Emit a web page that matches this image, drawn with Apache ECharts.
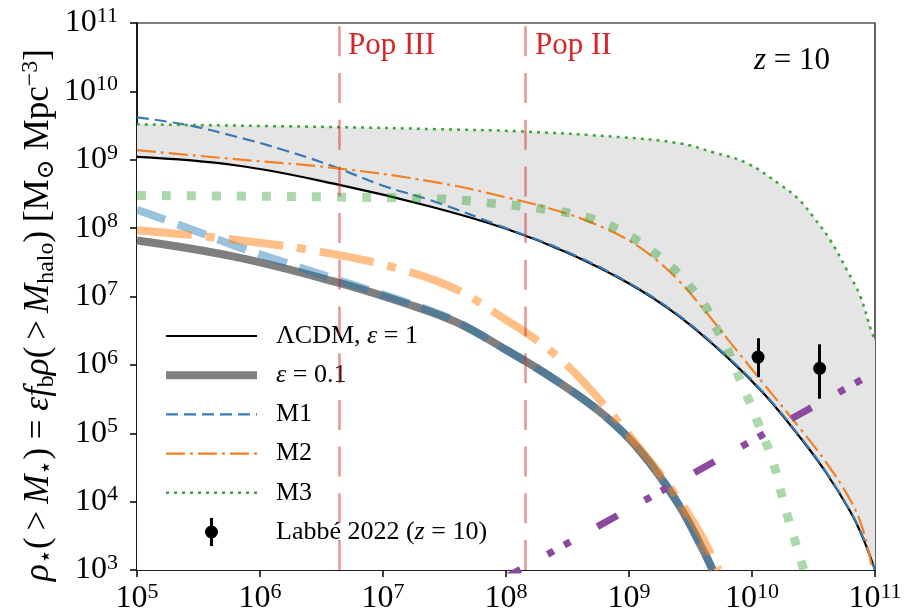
<!DOCTYPE html>
<html><head><meta charset="utf-8">
<script src="https://cdn.jsdelivr.net/npm/echarts@6/dist/echarts.min.js"></script>
<style>html,body{margin:0;padding:0;background:#fff}#c{width:909px;height:616px}</style>
</head><body><div id="c"></div>
<script>
// ---------- data ----------
const xTickExps = [5, 6, 7, 8, 9, 10, 11];
const yTickExps = [3, 4, 5, 6, 7, 8, 9, 10, 11];

const lcdm = [[1e5,1.10e9],[6.31e5,8.3e8],[3.98e6,4.47e8],[2.51e7,2.04e8],[1e8,9.8e7],[3.16e8,4.37e7],[1e9,1.55e7],[2.51e9,5.25e6],[6.31e9,1.29e6],[1.26e10,3.72e5],[2.51e10,8.3e4],[3.98e10,2.69e4],[6.31e10,7.1e3],[7.94e10,3.0e3],[1e11,1e3]];
const m1 = [[1e5,4.17e9],[2.51e5,3.24e9],[6.31e5,2.19e9],[1.58e6,1.38e9],[3.98e6,7.94e8],[1e7,4.17e8],[2.51e7,2.51e8],[1e8,1.0e8],[3.16e8,4.47e7],[1e9,1.58e7],[2.51e9,5.37e6],[6.31e9,1.32e6],[1.26e10,3.8e5],[2.51e10,8.5e4],[3.98e10,2.75e4],[6.31e10,7.2e3],[7.94e10,3.1e3],[1e11,1e3]];
const m2 = [[1e5,1.38e9],[6.31e5,1.02e9],[3.98e6,7.59e8],[2.51e7,4.79e8],[1e8,2.82e8],[3.16e8,1.62e8],[6.31e8,1.0e8],[1e9,6.6e7],[1.58e9,3.72e7],[2.51e9,1.74e7],[3.98e9,6.76e6],[6.31e9,2.4e6],[1.26e10,5.13e5],[2.51e10,1.12e5],[3.98e10,3.8e4],[6.31e10,1.05e4],[7.94e10,4.0e3],[9.55e10,1e3]];
const m3 = [[1e5,3.3e9],[4.3e6,3.0e9],[2.75e7,2.8e9],[1.3e8,2.6e9],[8.5e8,2.14e9],[2.57e9,1.74e9],[4.8e9,1.29e9],[9.1e9,8.9e8],[1.7e10,4.3e8],[2.34e10,2.75e8],[3.16e10,1.45e8],[4.3e10,6.8e7],[5.9e10,2.45e7],[7.6e10,1.0e7],[9.3e10,3.2e6],[1e11,2.3e6]];

const eps01 = [[1e5,6.6e7],[6.31e5,3.8e7],[3.98e6,1.66e7],[1.58e7,7.76e6],[3.98e7,4.17e6],[1e8,1.66e6],[2.51e8,6.03e5],[6.31e8,1.82e5],[1.26e9,5.25e4],[2.51e9,9.3e3],[3.98e9,2.0e3],[4.79e9,1e3]];
const m1Eps01 = [[1e5,1.86e8],[2.51e5,1.02e8],[6.31e5,5.5e7],[1.58e6,3.16e7],[3.98e6,1.82e7],[1e7,1.07e7],[2.51e7,6.03e6],[3.98e7,4.27e6],[1e8,1.66e6],[2.51e8,6.03e5],[6.31e8,1.82e5],[1.26e9,5.25e4],[2.51e9,9.3e3],[3.98e9,2.0e3],[4.79e9,1e3]];
const m2Eps01 = [[1e5,9.3e7],[6.31e5,6.76e7],[3.98e6,4.17e7],[1.58e7,2.34e7],[3.98e7,1.26e7],[1e8,4.57e6],[1.91e8,2.09e6],[3.55e8,7.94e5],[7.08e8,2.0e5],[1.26e9,5.6e4],[2.24e9,1.48e4],[3.55e9,4.2e3],[5.37e9,1e3]];
const m3Eps01 = [[1e5,3.0e8],[2.75e7,2.7e8],[7.1e7,2.34e8],[1.82e8,1.95e8],[4.7e8,1.41e8],[1.05e9,7.4e7],[2.2e9,2.7e7],[3.0e9,1.51e7],[4.1e9,7.6e6],[5.1e9,3.5e6],[6.2e9,1.82e6],[7.4e9,8.5e5],[8.9e9,3.9e5],[1.07e10,1.74e5],[1.48e10,3.8e4],[1.86e10,8.1e3],[2.45e10,1.55e3],[2.8e10,7e2]];

const surveyLimit = [[9.0e7,7.0e2],[1e11,7.8e5]];

const labbeM = [1.12e10, 3.55e10];
const labbeRho = [1.3e6, 8.9e5];
const labbeLo = [6.6e5, 3.2e5];
const labbeHi = [2.45e6, 2.0e6];

const popIII = 4.4e6;
const popII = 1.43e8;

// ---------- chart ----------
const FONT = "'Liberation Serif', 'Times New Roman', 'DejaVu Serif', serif";
const chart = echarts.init(document.getElementById('c'), null, {renderer: 'canvas'});

const tickRich = {
  b: {fontSize: 32, lineHeight: 36, fontFamily: FONT, color: '#000'},
  s: {fontSize: 22, lineHeight: 14, verticalAlign: 'top', fontFamily: FONT, color: '#000'}
};
function tickFmt(exps) {
  return function (v) {
    const e = Math.round(Math.log10(v));
    return exps.indexOf(e) >= 0 ? '{b|10}{s|' + e + '}' : '';
  };
}

const nameRich = {
  r: {fontSize: 35, lineHeight: 40, fontFamily: FONT, fill: '#000'},
  i: {fontSize: 35, lineHeight: 40, fontFamily: FONT, fontStyle: 'italic', fill: '#000'},
  sb: {fontSize: 24, lineHeight: 24, verticalAlign: 'bottom', fontFamily: FONT, fill: '#000'},
  sp: {fontSize: 24, lineHeight: 14, verticalAlign: 'top', fontFamily: FONT, fill: '#000'}
};
const yName = '{i|ρ}{sb|⋆}{r|(\u2009>\u2009}{i|M}{sb|⋆}{r|) = }{i|εf}{sb|b}{i|ρ}{r|(\u2009>\u2009}{i|M}{sb|halo}{r|) [M}{sb|⊙}{r| Mpc}{sp|−3}{r|]}';

const legendLabels = {
  'ΛCDM, ε = 1': '{r|ΛCDM, }{i|ε}{r| = 1}',
  'ε = 0.1': '{i|ε}{r| = 0.1}',
  'M1': '{r|M1}', 'M2': '{r|M2}', 'M3': '{r|M3}',
  'Labbé 2022 (z = 10)': '{r|Labbé 2022 (}{i|z}{r| = 10)}'
};
const legRich = {
  r: {fontSize: 26, lineHeight: 28, fontFamily: FONT, color: '#000'},
  i: {fontSize: 26, lineHeight: 28, fontFamily: FONT, fontStyle: 'italic', color: '#000'}
};

const SM = 0.4;
function lineSeries(name, data, ls, extra) {
  return Object.assign({
    type: 'line', name: name, data: data, symbol: 'none', smooth: SM,
    lineStyle: ls, itemStyle: {color: ls.color || '#000'}, silent: true, clip: true, animation: false
  }, extra || {});
}

const errIcon = 'path://M3.5,0L6.5,0L6.5,7.8L3.5,7.8Z M3.5,20.2L6.5,20.2L6.5,28L3.5,28Z M11.5,14A6.5,6.5,0,1,1,-1.5,14A6.5,6.5,0,1,1,11.5,14Z';

const labbeName = 'Labbé 2022 (z = 10)';

const option = {
  animation: false,
  backgroundColor: '#fff',
  grid: {left: 137, top: 23, width: 738, height: 547, show: true, borderColor: '#000', borderWidth: 1.2, backgroundColor: 'transparent'},
  xAxis: {
    type: 'log', logBase: 10, min: 1e5, max: 1e11,
    axisLine: {show: true, lineStyle: {color: '#000', width: 1.5}},
    axisTick: {show: true, length: 7, lineStyle: {color: '#000', width: 1.5}},
    minorTick: {show: false}, splitLine: {show: false},
    axisLabel: {margin: 11, formatter: tickFmt(xTickExps), rich: tickRich}
  },
  yAxis: {
    type: 'log', logBase: 10, min: 1e3, max: 1e11,
    axisLine: {show: true, lineStyle: {color: '#000', width: 1.5}},
    axisTick: {show: true, length: 7, lineStyle: {color: '#000', width: 1.5}},
    minorTick: {show: false}, splitLine: {show: false},
    axisLabel: {margin: 19, formatter: tickFmt(yTickExps), rich: tickRich}
  },
  legend: {
    orient: 'vertical', left: 157, top: 317, itemWidth: 91, itemHeight: 28, itemGap: 11.2,
    selectedMode: false,
    textStyle: {fontFamily: FONT, fontSize: 26, color: '#000', lineHeight: 28, padding: [0, 0, 0, 14], rich: legRich},
    formatter: function (n) { return legendLabels[n] || n; },
    data: [
      {name: 'ΛCDM, ε = 1', itemStyle: {opacity: 0}, lineStyle: {width: 2.2, color: '#000', type: 'solid', opacity: 1}},
      {name: 'ε = 0.1', itemStyle: {opacity: 0}, lineStyle: {width: 8, color: '#7f7f7f', type: 'solid', opacity: 1}},
      {name: 'M1', itemStyle: {opacity: 0}, lineStyle: {width: 2.2, color: '#3a78b4', type: [12, 6], opacity: 1}},
      {name: 'M2', itemStyle: {opacity: 0}, lineStyle: {width: 2.2, color: '#f28125', type: [19, 5, 3, 5], opacity: 1}},
      {name: 'M3', itemStyle: {opacity: 0}, lineStyle: {width: 2.5, color: '#3fa33f', type: [3, 5], opacity: 1}},
      {name: labbeName, icon: errIcon, itemStyle: {color: '#000', opacity: 1}}
    ]
  },
  graphic: [
    {type: 'text', x: 39, y: 315, rotation: Math.PI / 2, silent: true,
      style: {text: yName, rich: nameRich, align: 'center', verticalAlign: 'middle', fill: '#000', font: '35px ' + FONT}},
    {type: 'text', x: 348, y: 46, silent: true, style: {text: 'Pop III', fill: '#d62728', font: '31px ' + FONT, verticalAlign: 'middle', align: 'left'}},
    {type: 'text', x: 535, y: 46, silent: true, style: {text: 'Pop II', fill: '#d62728', font: '31px ' + FONT, verticalAlign: 'middle', align: 'left'}},
    {type: 'text', x: 754, y: 61, silent: true, style: {text: '{i|z}{r| = 10}', verticalAlign: 'middle', align: 'left',
      rich: {r: {fontSize: 31, fontFamily: FONT, fill: '#000'}, i: {fontSize: 31, fontFamily: FONT, fontStyle: 'italic', fill: '#000'}}}},
    {type: 'text', x: 716, y: 486, silent: true, style: {text: '{r|40 arcmin}{s|2}', verticalAlign: 'middle', align: 'left',
      rich: {r: {fontSize: 32, lineHeight: 36, fontFamily: FONT, fill: '#9a5db4'}, s: {fontSize: 22, lineHeight: 14, verticalAlign: 'top', fontFamily: FONT, fill: '#9a5db4'}}}},
    {type: 'text', x: 716, y: 521, silent: true, style: {text: '{r|Δ}{i|z}{r| = 2}', verticalAlign: 'middle', align: 'left',
      rich: {r: {fontSize: 32, fontFamily: FONT, fill: '#9a5db4'}, i: {fontSize: 32, fontFamily: FONT, fontStyle: 'italic', fill: '#9a5db4'}}}}
  ],
  series: [
    // shaded band between ΛCDM and M3
    lineSeries('bandTop', m3, {width: 0}, {areaStyle: {color: '#e5e5e5', opacity: 1, origin: 'start'}}),
    lineSeries('bandBottom', lcdm, {width: 0}, {areaStyle: {color: '#ffffff', opacity: 1, origin: 'start'}}),
    // thin curves (epsilon = 1)
    lineSeries('ΛCDM, ε = 1', lcdm, {color: '#000', width: 2.2}),
    lineSeries('M1', m1, {color: '#3a78b4', width: 2.2, type: [12, 6]}),
    lineSeries('M2', m2, {color: '#f28125', width: 2.2, type: [19, 5, 3, 5]}),
    lineSeries('M3', m3, {color: '#3fa33f', width: 2.5, type: [3, 5]}),
    // thick curves (epsilon = 0.1)
    lineSeries('ε = 0.1', eps01, {color: '#7f7f7f', width: 8}),
    lineSeries('M1 (ε = 0.1)', m1Eps01, {color: '#1f77b4', width: 8, opacity: 0.45, type: [30, 13]}),
    lineSeries('M2 (ε = 0.1)', m2Eps01, {color: '#ff7f0e', width: 8, opacity: 0.5, type: [55, 14, 9, 14]}),
    lineSeries('M3 (ε = 0.1)', m3Eps01, {color: '#2ca02c', width: 9, opacity: 0.4, type: [9, 16]}),
    // survey limit
    Object.assign(lineSeries('survey', surveyLimit, {color: '#8b4a9e', width: 7, type: [23, 31, 7, 12, 7, 31], cap: 'butt'}), {smooth: false,
      markLine: {silent: true, symbol: ['none', 'none'], label: {show: false}, animation: false,
        lineStyle: {color: '#d62728', opacity: 0.5, width: 2.5, type: [30, 16.7]},
        data: [{xAxis: popIII}, {xAxis: popII}]}}),
    // Labbé points with error bars
    {
      type: 'scatter', name: labbeName, silent: true, animation: false, z: 10,
      data: labbeM.map(function (m, i) { return [m, labbeRho[i]]; }),
      symbol: 'circle', symbolSize: 13, itemStyle: {color: '#000', opacity: 1},
      markLine: {silent: true, symbol: ['none', 'none'], label: {show: false}, animation: false,
        lineStyle: {color: '#000', width: 3, type: 'solid', opacity: 1},
        data: labbeM.map(function (m, i) { return [{coord: [m, labbeLo[i]]}, {coord: [m, labbeHi[i]]}]; })}
    }
  ]
};
chart.setOption(option);
</script></body></html>
